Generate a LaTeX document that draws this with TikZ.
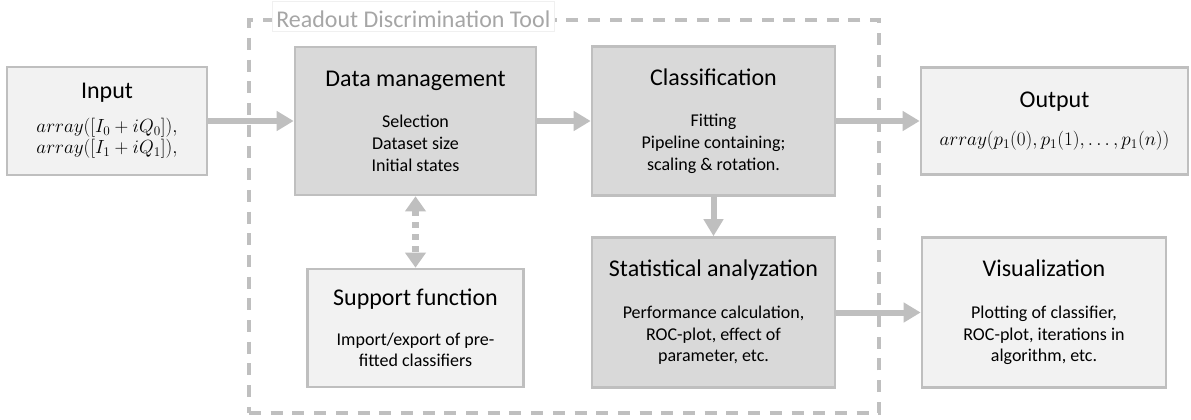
\documentclass[tikz,border=0pt]{standalone}
\usepackage{fontspec}
\usepackage{graphicx}
\setmainfont{Carlito}
\usetikzlibrary{arrows.meta,positioning}

\definecolor{boxline}{HTML}{BFBFBF}
\definecolor{darkfill}{HTML}{D9D9D9}
\definecolor{lightfill}{HTML}{F2F2F2}
\definecolor{labelgray}{HTML}{A6A6A6}

\newcommand{\boxtitle}[1]{{\fontsize{24}{29}\selectfont #1}}
% formulas in the boxes, set to a fixed width
\newcommand{\boxmath}[2]{\resizebox{#1}{!}{$#2$}}

\begin{document}
\begin{tikzpicture}[x=1pt,y=-1pt,>={Triangle[width=19pt,length=17pt]},
  base node/.style={rectangle,draw=boxline,line width=2.6pt,align=center,inner sep=0pt,
    font=\fontsize{18}{21.6}\selectfont},
  dark node/.style={base node,fill=darkfill},
  light node/.style={base node,fill=lightfill},
  tool frame/.style={rectangle,draw=boxline,line width=3.4pt,dash pattern=on 12pt off 9.7pt},
  tool label/.style={rectangle,fill=white,draw=gray!12,line width=0.6pt,text=labelgray,
    inner xsep=4pt,inner ysep=0pt,text height=26pt,text depth=4pt,
    font=\fontsize{24}{29}\selectfont},
  flow/.style={->,line width=6pt,color=boxline}]
 \useasboundingbox (0,0) rectangle (1191,420);

 % the tool boundary and its title
 \node[tool frame,minimum width=630pt,minimum height=393pt] (tool) at (564,216.5) {};
 \node[tool label,anchor=north west] (toollabel) at (272,1) {Readout Discrimination Tool};

 \node[dark node,minimum width=241pt,minimum height=148pt] (dm) at (415.5,121)
   {\boxtitle{Data management}\\[20pt] Selection\\ Dataset size\\ Initial states};
 \node[light node,minimum width=200pt,minimum height=108pt,node distance=308.5pt] (in) [left of=dm]
   {\boxtitle{Input}\\[12pt] \boxmath{141pt}{array([I_0+iQ_0]),}\\ \boxmath{141pt}{array([I_1+iQ_1]),}};
 \node[dark node,minimum width=243pt,minimum height=149pt,node distance=298pt] (cls) [right of=dm]
   {\boxtitle{Classification}\\[20pt] Fitting\\ Pipeline containing;\\ scaling \& rotation.};
 \node[light node,minimum width=267pt,minimum height=107pt,node distance=341pt] (out) [right of=cls]
   {\boxtitle{Output}\\[16pt] \boxmath{230pt}{array\bigl(p_1(0), p_1(1), \ldots, p_1(n)\bigr)}};
 \node[dark node,minimum width=243pt,minimum height=150pt,node distance=191.5pt] (stat) [below of=cls]
   {\boxtitle{Statistical analyzation}\\[20pt] Performance calculation,\\ ROC-plot, effect of\\ parameter, etc.};
 \node[light node,minimum width=216pt,minimum height=118pt,node distance=207pt] (sf) [below of=dm]
   {\boxtitle{Support function}\\[18pt] Import/export of pre-\\ fitted classifiers};
 \node[light node,minimum width=244pt,minimum height=150pt,node distance=330.5pt] (vis) [right of=stat]
   {\boxtitle{Visualization}\\[20pt] Plotting of classifier,\\ ROC-plot, iterations in\\ algorithm, etc.};

 \path[flow]
    (in)   edge (dm)
    (dm)   edge (cls)
    (cls)  edge (out)
    (cls)  edge (stat)
    (stat) edge (vis);
 \path[color=boxline]
    (dm)   edge [{Triangle[width=20pt,length=15pt]}-{Triangle[width=20pt,length=15pt]},
                 line width=7pt,dash pattern=on 6pt off 6pt] (sf);

\end{tikzpicture}
\end{document}
